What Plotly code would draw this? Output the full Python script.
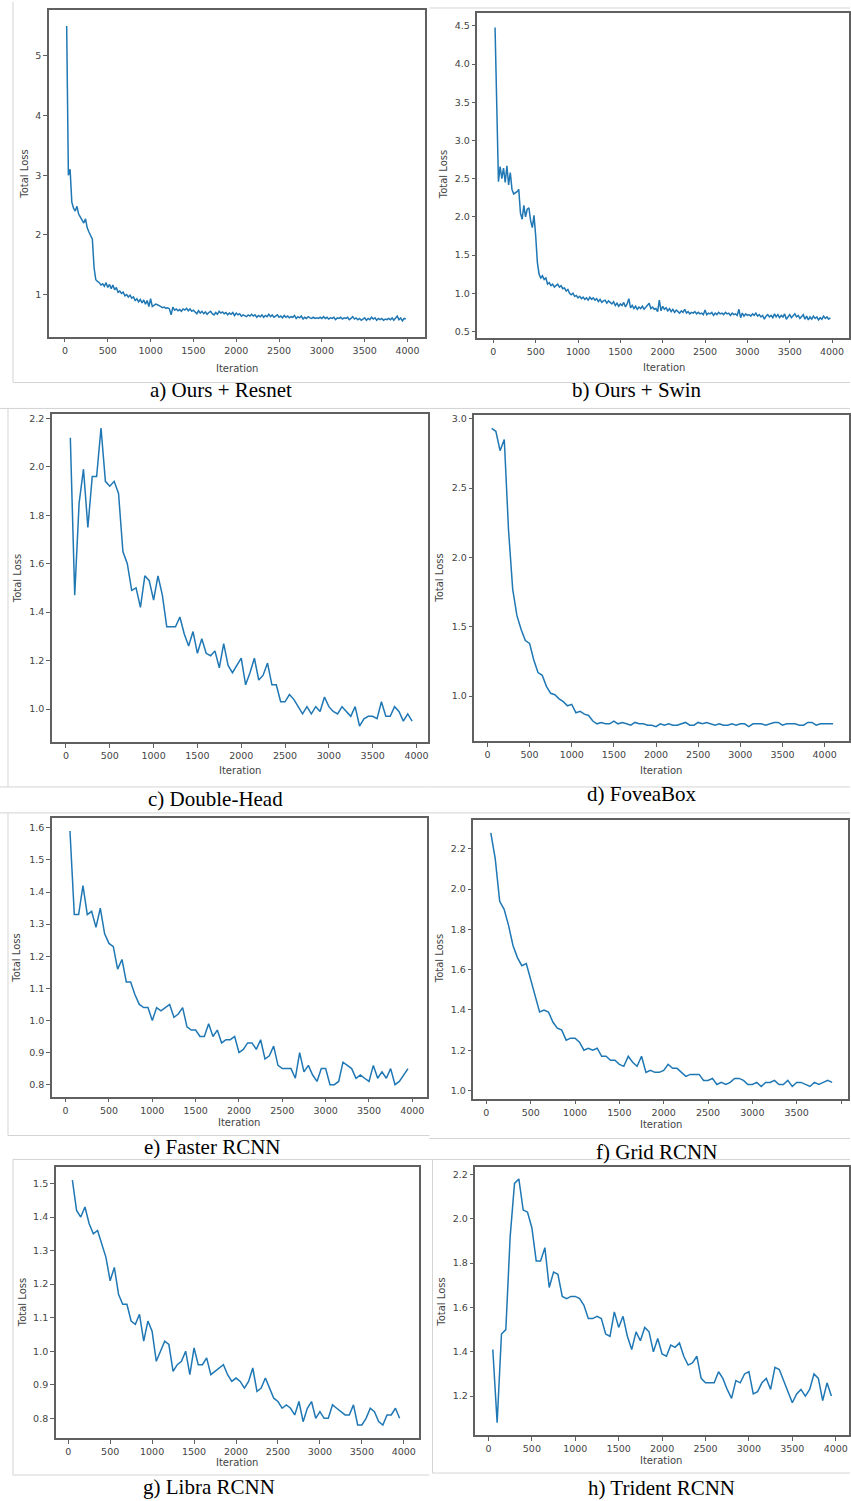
import plotly.graph_objects as go

W, H = 851, 1501

# ---------------- data ----------------
captions = ["a) Ours + Resnet", "b) Ours + Swin", "c) Double-Head", "d) FoveaBox",
            "e) Faster RCNN", "f) Grid RCNN", "g) Libra RCNN", "h) Trident RCNN"]

x_ticks = [0, 500, 1000, 1500, 2000, 2500, 3000, 3500, 4000]

start_a, step_a = 20, 20
loss_a = [5.5, 3.0, 3.1, 2.55, 2.45, 2.4, 2.48, 2.35, 2.3, 2.25,
          2.2, 2.27, 2.12, 2.05, 2.0, 1.93, 1.45, 1.25, 1.22, 1.2,
          1.16, 1.18, 1.14, 1.2, 1.12, 1.17, 1.1, 1.16, 1.08, 1.12,
          1.04, 1.06, 1.02, 1.04, 0.98, 1.0, 0.96, 0.99, 0.94, 0.96,
          0.9, 0.93, 0.88, 0.92, 0.86, 0.91, 0.84, 0.9, 0.8, 0.93,
          0.8, 0.82, 0.84, 0.83, 0.82, 0.8, 0.78, 0.79, 0.77, 0.78,
          0.76, 0.66, 0.79, 0.74, 0.76, 0.73, 0.75, 0.72, 0.76, 0.74,
          0.77, 0.73, 0.76, 0.72, 0.74, 0.7, 0.68, 0.73, 0.69, 0.72,
          0.68, 0.71, 0.67, 0.7, 0.72, 0.68, 0.66, 0.7, 0.67, 0.72,
          0.69, 0.71, 0.68, 0.7, 0.66, 0.69, 0.67, 0.7, 0.65, 0.69,
          0.66, 0.68, 0.64, 0.66, 0.65, 0.63, 0.66, 0.64, 0.67, 0.64,
          0.66, 0.62, 0.65, 0.63, 0.66, 0.62, 0.65, 0.63, 0.67, 0.63,
          0.66, 0.62, 0.64, 0.66, 0.62, 0.64, 0.61, 0.65, 0.62, 0.64,
          0.61, 0.63, 0.62, 0.65, 0.6, 0.63, 0.61, 0.64, 0.59, 0.62,
          0.6, 0.63, 0.61, 0.6, 0.62, 0.6, 0.61, 0.6, 0.62, 0.6,
          0.63, 0.6, 0.62, 0.59, 0.61, 0.6, 0.62, 0.58, 0.61, 0.6,
          0.62, 0.59, 0.61, 0.6, 0.62, 0.58, 0.6, 0.63, 0.59, 0.61,
          0.58, 0.6, 0.57, 0.59, 0.61, 0.57, 0.6, 0.58, 0.62, 0.59,
          0.61, 0.57, 0.6, 0.58, 0.6, 0.57, 0.59, 0.58, 0.6, 0.58,
          0.61, 0.57, 0.6, 0.64, 0.58, 0.61, 0.56, 0.6, 0.59]

start_b, step_b = 20, 20
loss_b = [4.48, 3.2, 2.46, 2.66, 2.5, 2.64, 2.45, 2.67, 2.42, 2.58,
          2.36, 2.3, 2.31, 2.33, 2.36, 2.05, 1.97, 2.15, 2.0, 2.1,
          2.12, 1.95, 1.86, 2.02, 1.75, 1.4, 1.25, 1.2, 1.23, 1.18,
          1.2, 1.12, 1.14, 1.1, 1.12, 1.08, 1.1, 1.12, 1.08, 1.1,
          1.06, 1.07, 1.03, 1.05, 1.0, 0.98, 1.0, 0.96, 0.97, 0.94,
          0.96, 0.93, 0.95, 0.92, 0.94, 0.91, 0.95, 0.92, 0.94, 0.91,
          0.93, 0.89, 0.92, 0.88, 0.9, 0.91, 0.87, 0.9, 0.88, 0.86,
          0.89, 0.84, 0.87, 0.83, 0.86, 0.84, 0.88, 0.82, 0.86, 0.93,
          0.81, 0.84, 0.8, 0.83, 0.79, 0.82, 0.8, 0.83, 0.79, 0.82,
          0.84, 0.87, 0.8, 0.82, 0.79, 0.8, 0.76, 0.91, 0.77, 0.83,
          0.79, 0.81, 0.77, 0.8, 0.76, 0.79, 0.75, 0.78, 0.76, 0.74,
          0.77, 0.75, 0.79, 0.74, 0.76, 0.73, 0.75, 0.74, 0.76, 0.73,
          0.75, 0.73, 0.74, 0.72, 0.78, 0.72, 0.74, 0.73, 0.75, 0.71,
          0.74, 0.72, 0.75, 0.73, 0.74, 0.72, 0.75, 0.73, 0.74, 0.71,
          0.74, 0.72, 0.73, 0.71, 0.79, 0.68, 0.74, 0.7, 0.73, 0.71,
          0.72, 0.7, 0.73, 0.71, 0.74, 0.7, 0.72, 0.69, 0.71, 0.66,
          0.7, 0.72, 0.69, 0.71, 0.68, 0.73, 0.69, 0.72, 0.68, 0.71,
          0.69, 0.73, 0.66, 0.7, 0.72, 0.68, 0.71, 0.73, 0.69, 0.71,
          0.67, 0.7, 0.72, 0.66, 0.7, 0.65, 0.69, 0.66, 0.7, 0.67,
          0.69, 0.65, 0.68, 0.66, 0.7, 0.67, 0.69, 0.66, 0.68]

start_c, step_c = 50, 50
loss_c = [2.12, 1.47, 1.85, 1.99, 1.75, 1.96, 1.96, 2.16, 1.94, 1.92,
          1.94, 1.89, 1.65, 1.6, 1.49, 1.5, 1.42, 1.55, 1.53, 1.45,
          1.55, 1.47, 1.34, 1.34, 1.34, 1.38, 1.31, 1.26, 1.32, 1.23,
          1.29, 1.23, 1.22, 1.24, 1.17, 1.27, 1.18, 1.15, 1.18, 1.21,
          1.1, 1.15, 1.21, 1.12, 1.14, 1.19, 1.1, 1.1, 1.03, 1.03,
          1.06, 1.04, 1.01, 0.98, 1.01, 0.98, 1.01, 0.99, 1.05, 1.01,
          0.99, 0.98, 1.01, 0.99, 0.97, 1.01, 0.93, 0.96, 0.97, 0.97,
          0.96, 1.03, 0.97, 0.97, 1.01, 0.99, 0.95, 0.98, 0.95]

start_d, step_d = 50, 50
loss_d = [2.93, 2.91, 2.77, 2.85, 2.2, 1.77, 1.58, 1.48, 1.4, 1.38,
          1.26, 1.17, 1.15, 1.07, 1.02, 1.01, 0.98, 0.96, 0.93, 0.94,
          0.88, 0.89, 0.87, 0.86, 0.82, 0.8, 0.81, 0.8, 0.8, 0.82,
          0.8, 0.81, 0.8, 0.79, 0.81, 0.8, 0.8, 0.79, 0.79, 0.78,
          0.8, 0.79, 0.8, 0.79, 0.79, 0.8, 0.81, 0.79, 0.79, 0.81,
          0.8, 0.81, 0.8, 0.79, 0.8, 0.79, 0.79, 0.8, 0.79, 0.8,
          0.8, 0.78, 0.8, 0.8, 0.8, 0.79, 0.8, 0.81, 0.81, 0.79,
          0.8, 0.8, 0.8, 0.79, 0.79, 0.81, 0.81, 0.79, 0.8, 0.8,
          0.8, 0.8]

start_e, step_e = 50, 50
loss_e = [1.59, 1.33, 1.33, 1.42, 1.33, 1.34, 1.29, 1.35, 1.27, 1.24,
          1.23, 1.16, 1.19, 1.12, 1.12, 1.08, 1.05, 1.04, 1.04, 1.0,
          1.04, 1.03, 1.04, 1.05, 1.01, 1.02, 1.04, 0.98, 0.97, 0.97,
          0.95, 0.95, 0.99, 0.95, 0.97, 0.93, 0.94, 0.94, 0.95, 0.9,
          0.91, 0.93, 0.93, 0.91, 0.94, 0.88, 0.89, 0.92, 0.86, 0.85,
          0.85, 0.85, 0.82, 0.9, 0.84, 0.86, 0.83, 0.81, 0.85, 0.85,
          0.8, 0.8, 0.81, 0.87, 0.86, 0.85, 0.82, 0.83, 0.82, 0.81,
          0.86, 0.82, 0.84, 0.82, 0.85, 0.8, 0.81, 0.83, 0.85]

start_f, step_f = 50, 50
loss_f = [2.28, 2.15, 1.94, 1.9, 1.82, 1.72, 1.66, 1.62, 1.63, 1.55,
          1.48, 1.39, 1.4, 1.39, 1.34, 1.31, 1.3, 1.25, 1.26, 1.26,
          1.24, 1.2, 1.21, 1.2, 1.21, 1.17, 1.17, 1.15, 1.15, 1.13,
          1.12, 1.17, 1.14, 1.12, 1.17, 1.09, 1.1, 1.09, 1.09, 1.1,
          1.13, 1.11, 1.11, 1.09, 1.07, 1.08, 1.08, 1.08, 1.05, 1.05,
          1.06, 1.03, 1.04, 1.03, 1.04, 1.06, 1.06, 1.05, 1.03, 1.03,
          1.04, 1.02, 1.04, 1.04, 1.05, 1.03, 1.03, 1.05, 1.02, 1.04,
          1.04, 1.03, 1.02, 1.04, 1.03, 1.04, 1.05, 1.04]

start_g, step_g = 50, 50
loss_g = [1.51, 1.42, 1.4, 1.43, 1.38, 1.35, 1.36, 1.32, 1.28, 1.21,
          1.25, 1.17, 1.14, 1.14, 1.09, 1.08, 1.11, 1.03, 1.09, 1.06,
          0.97, 1.0, 1.03, 1.02, 0.94, 0.96, 0.97, 1.0, 0.93, 1.01,
          0.96, 0.96, 0.98, 0.93, 0.94, 0.95, 0.96, 0.93, 0.91, 0.92,
          0.91, 0.89, 0.91, 0.95, 0.88, 0.89, 0.92, 0.89, 0.86, 0.85,
          0.83, 0.84, 0.83, 0.81, 0.85, 0.79, 0.83, 0.85, 0.8, 0.82,
          0.8, 0.8, 0.84, 0.83, 0.82, 0.81, 0.81, 0.84, 0.78, 0.78,
          0.8, 0.83, 0.82, 0.79, 0.78, 0.81, 0.81, 0.83, 0.8]

start_h, step_h = 50, 50
loss_h = [1.41, 1.08, 1.48, 1.5, 1.92, 2.16, 2.18, 2.04, 2.03, 1.96,
          1.81, 1.81, 1.87, 1.69, 1.76, 1.75, 1.65, 1.64, 1.65, 1.65,
          1.64, 1.61, 1.55, 1.55, 1.56, 1.55, 1.48, 1.47, 1.58, 1.51,
          1.56, 1.47, 1.41, 1.49, 1.45, 1.51, 1.49, 1.4, 1.46, 1.39,
          1.38, 1.43, 1.42, 1.44, 1.38, 1.34, 1.35, 1.38, 1.28, 1.26,
          1.26, 1.26, 1.31, 1.28, 1.23, 1.19, 1.27, 1.26, 1.3, 1.31,
          1.21, 1.22, 1.26, 1.28, 1.23, 1.33, 1.32, 1.27, 1.22, 1.17,
          1.21, 1.23, 1.2, 1.23, 1.3, 1.28, 1.18, 1.26, 1.2]

y_ticks_a = [1, 2, 3, 4, 5]
y_ticks_b = [0.5, 1.0, 1.5, 2.0, 2.5, 3.0, 3.5, 4.0, 4.5]
y_ticks_c = [1.0, 1.2, 1.4, 1.6, 1.8, 2.0, 2.2]
y_ticks_d = [1.0, 1.5, 2.0, 2.5, 3.0]
y_ticks_e = [0.8, 0.9, 1.0, 1.1, 1.2, 1.3, 1.4, 1.5, 1.6]
y_ticks_f = [1.0, 1.2, 1.4, 1.6, 1.8, 2.0, 2.2]
y_ticks_g = [0.8, 0.9, 1.0, 1.1, 1.2, 1.3, 1.4, 1.5]
y_ticks_h = [1.2, 1.4, 1.6, 1.8, 2.0, 2.2]

series = [(start_a, step_a, loss_a, y_ticks_a), (start_b, step_b, loss_b, y_ticks_b),
          (start_c, step_c, loss_c, y_ticks_c), (start_d, step_d, loss_d, y_ticks_d),
          (start_e, step_e, loss_e, y_ticks_e), (start_f, step_f, loss_f, y_ticks_f),
          (start_g, step_g, loss_g, y_ticks_g), (start_h, step_h, loss_h, y_ticks_h)]

# ---------------- layout (pixels) ----------------
boxes = [(49, 426, 8, 335), (478, 850, 11, 336), (52, 429, 413, 741), (475, 850, 414, 740),
         (52, 428, 817, 1096), (474, 849, 819, 1098), (56, 419, 1167, 1438), (476, 850, 1167, 1435)]
xranges = [(-187, 4210), (-188, 4200), (-160, 4137), (-154, 4289),
           (-158, 4175), (-146, 4079), (-146, 4175), (-150, 4153)]
yranges = [(0.297, 5.77), (0.42, 4.67), (0.864, 2.216), (0.676, 3.024),
           (0.763, 1.631), (0.96, 2.344), (0.741, 1.548), (1.024, 2.232)]
tick_formats = ["d", ".1f", ".1f", ".1f", ".1f", ".1f", ".1f", ".1f"]
ylab_pos = [(25, 172), (444, 173), (17, 577), (440, 577), (17, 957), (440, 958), (22, 1302), (442, 1302)]
xlab_pos = [(237, 367), (665, 366), (240, 770), (662, 770), (239, 1122), (662, 1124), (237, 1462), (662, 1460)]
cap_pos = [(221, 389), (638, 389), (216, 798), (643, 793), (212, 1147), (657, 1152), (209, 1487), (662, 1488)]

def px(x):
    return x / W

def py(y):
    return 1 - y / H

fig = go.Figure()
layout = dict(width=W, height=H, margin=dict(l=0, r=0, t=0, b=0),
              paper_bgcolor="white", plot_bgcolor="white", showlegend=False)

annotations = []
tick_font = dict(family="DejaVu Sans", size=9.5, color="#444444")
spine = "#606060"

for i, (start, step, loss, yt) in enumerate(series):
    n = i + 1
    sx = "" if n == 1 else str(n)
    iters = list(range(start, start + step * len(loss), step))
    fig.add_trace(go.Scatter(x=iters, y=loss, mode="lines",
                             line=dict(color="#1f77b4", width=1.5),
                             xaxis="x" + sx, yaxis="y" + sx, hoverinfo="skip"))
    L, R, T, B = boxes[i]
    layout["xaxis" + sx] = dict(domain=[px(L), px(R)], anchor="y" + sx, range=list(xranges[i]),
                                tickvals=x_ticks, ticks="outside", ticklen=4, tickwidth=1,
                                tickcolor=spine, showline=True, linecolor=spine, linewidth=1.6,
                                mirror=True, showgrid=False, zeroline=False, tickfont=tick_font)
    layout["yaxis" + sx] = dict(domain=[py(B), py(T)], anchor="x" + sx, range=list(yranges[i]),
                                tickvals=yt, tickformat=tick_formats[i], ticks="outside", ticklen=4,
                                tickwidth=1, tickcolor=spine, showline=True, linecolor=spine,
                                linewidth=1.6, mirror=True, showgrid=False, zeroline=False,
                                tickfont=tick_font)
    annotations.append(dict(text="Total Loss", x=px(ylab_pos[i][0]), y=py(ylab_pos[i][1]),
                            xref="paper", yref="paper", showarrow=False, textangle=-90,
                            xanchor="center", yanchor="middle",
                            font=dict(family="DejaVu Sans", size=10, color="#444444")))
    annotations.append(dict(text="Iteration", x=px(xlab_pos[i][0]), y=py(xlab_pos[i][1]),
                            xref="paper", yref="paper", showarrow=False,
                            xanchor="center", yanchor="middle",
                            font=dict(family="DejaVu Sans", size=10, color="#444444")))
    annotations.append(dict(text=captions[i], x=px(cap_pos[i][0]), y=py(cap_pos[i][1]),
                            xref="paper", yref="paper", showarrow=False,
                            xanchor="center", yanchor="middle",
                            font=dict(family="Liberation Serif", size=21, color="black")))

# light frame / separator lines of the pasted panels
sep = [(13, 381, 433, 381), (430, 381, 851, 381), (430, 6, 851, 6), (13, 0, 13, 381),
       (0, 407, 430, 407), (430, 407, 851, 407), (0, 786, 430, 786), (430, 786, 851, 786),
       (8, 407, 8, 786), (0, 812, 430, 812), (430, 812, 851, 812), (8, 812, 8, 1135),
       (8, 1135, 430, 1135), (430, 1138, 851, 1138), (13, 1159, 430, 1159), (430, 1159, 851, 1159),
       (13, 1159, 13, 1475), (13, 1475, 430, 1475), (433, 1159, 433, 1473), (433, 1473, 851, 1473)]
shapes = [dict(type="line", xref="paper", yref="paper", x0=px(a), y0=py(b), x1=px(c), y1=py(d),
               line=dict(color="#d4d4d4", width=1)) for a, b, c, d in sep]

layout["annotations"] = annotations
layout["shapes"] = shapes
fig.update_layout(**layout)
fig.write_html("out.html", config={"displayModeBar": False},
               post_script="document.body.style.margin='0';document.body.style.overflow='hidden';")
